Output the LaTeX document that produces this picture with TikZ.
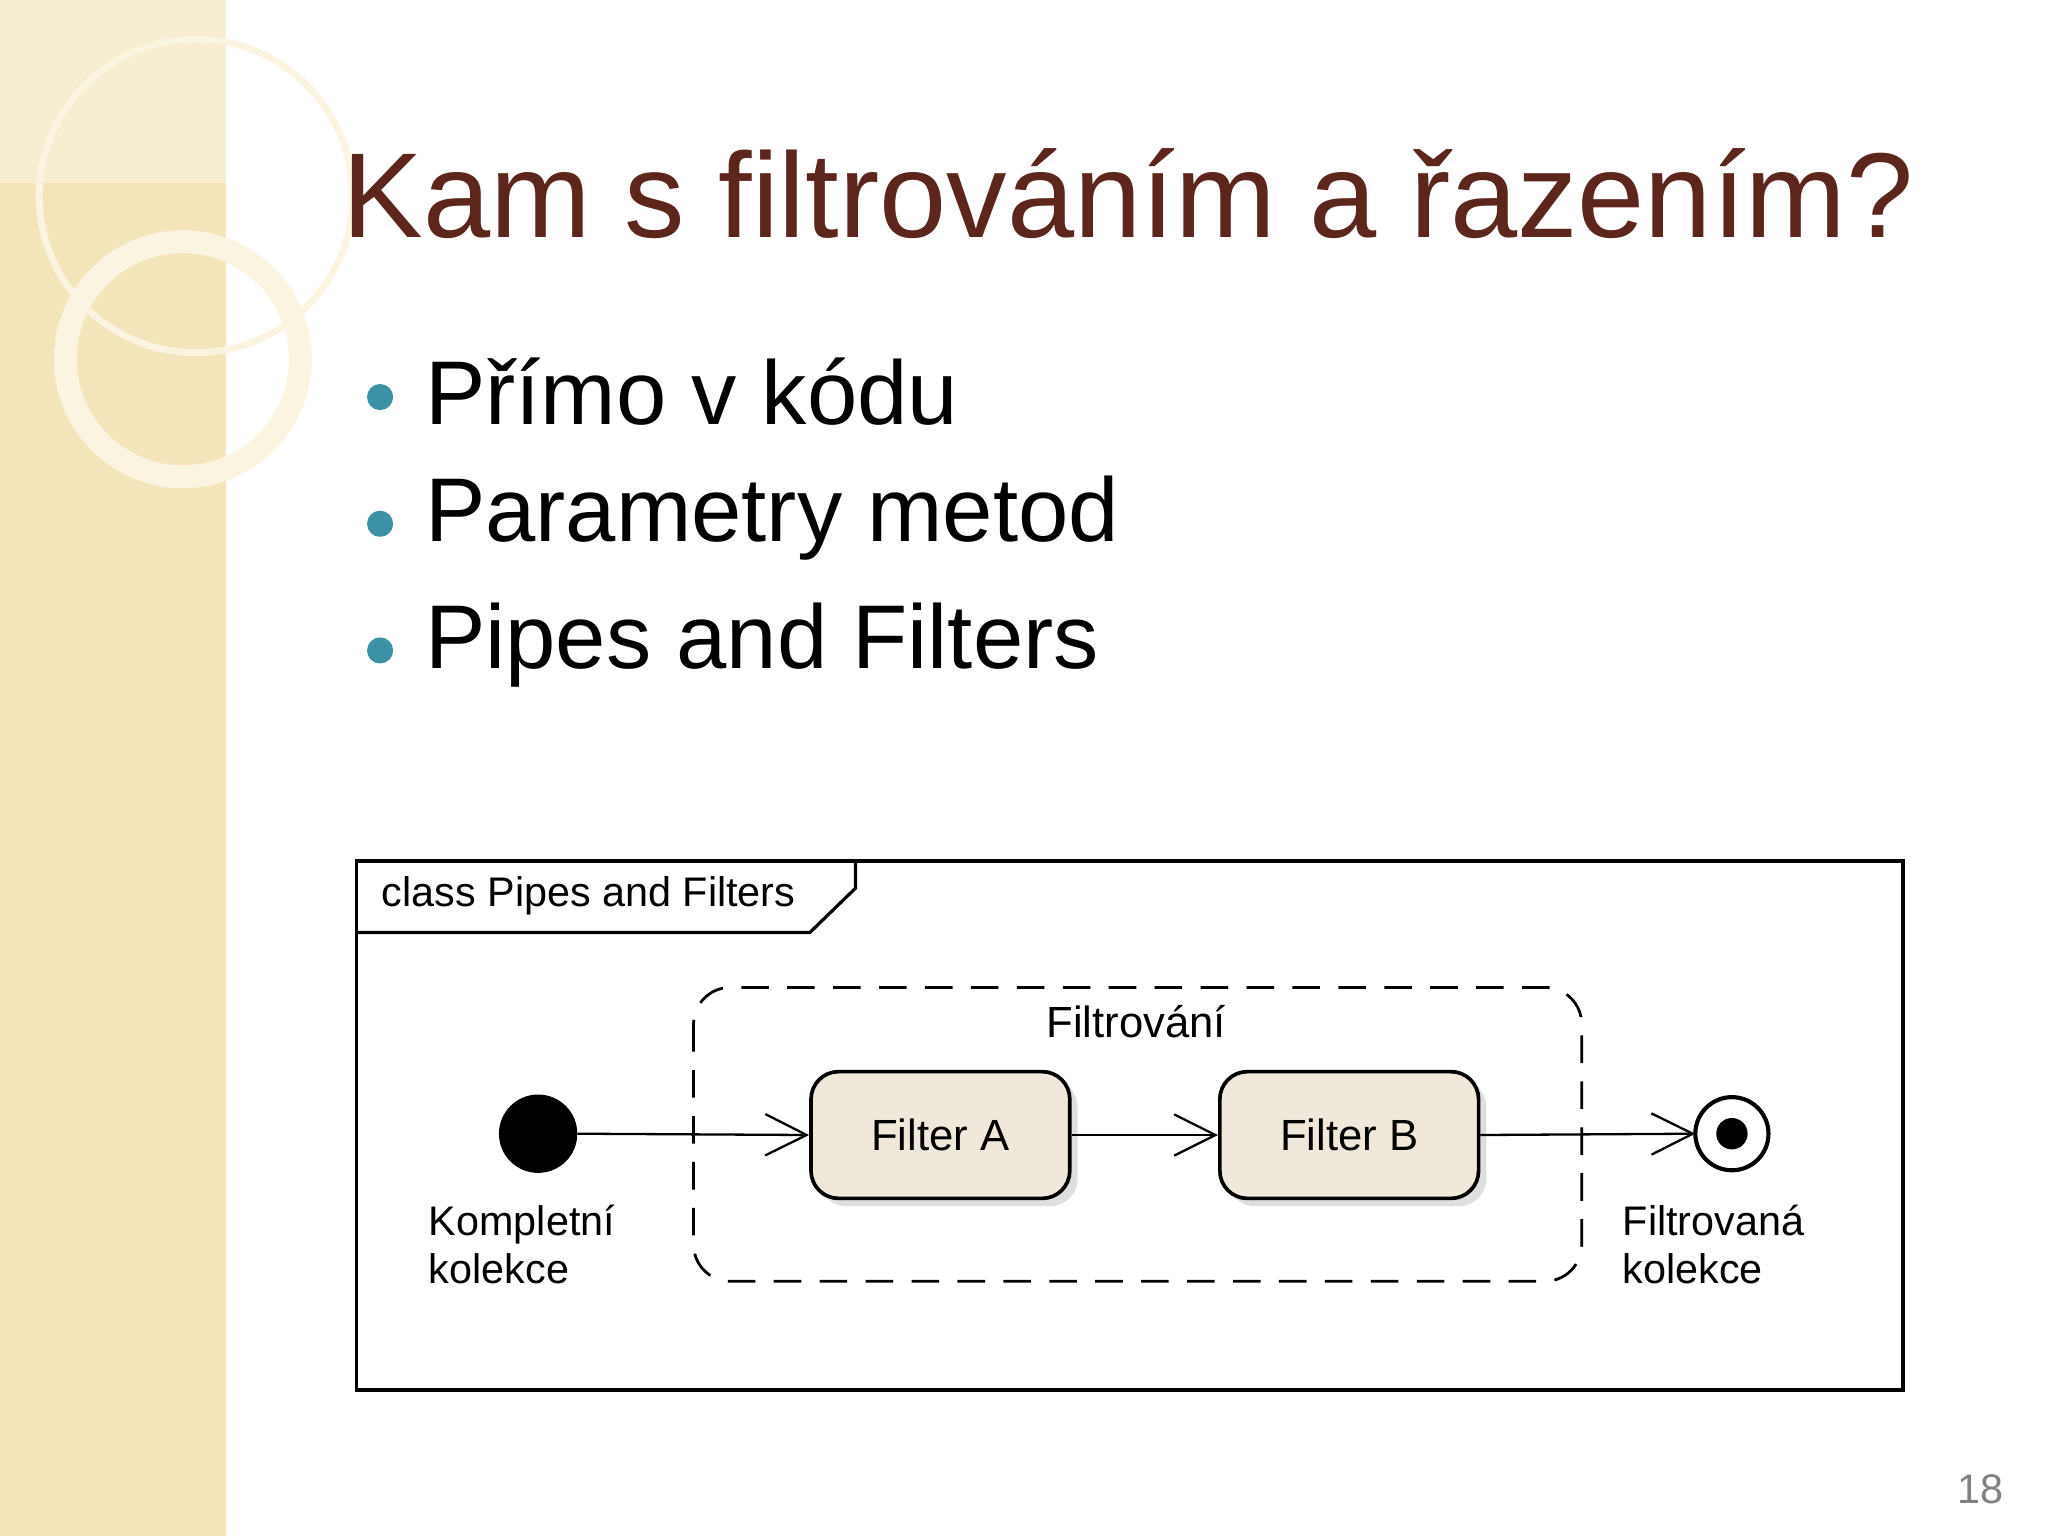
\documentclass[tikz,border=0pt]{standalone}
\usepackage{fontspec}
\setmainfont{Liberation Sans}
\usetikzlibrary{arrows.meta,shadows}
\definecolor{beige}{RGB}{243,228,186}
\definecolor{ring}{RGB}{250,244,225}
\definecolor{titlec}{RGB}{92,38,28}
\definecolor{bul}{RGB}{60,145,165}
\definecolor{fillc}{RGB}{240,232,218}
\tikzset{
  filt/.style={draw,line width=0.8pt,rounded corners=6pt,fill=fillc,minimum width=1.98cm,minimum height=0.97cm,font=\fontsize{9.5}{11}\selectfont,drop shadow={shadow xshift=0.06cm,shadow yshift=-0.06cm,fill=gray!50}},
  flow/.style={line width=0.5pt,-{Straight Barb[length=9pt,width=9pt,line width=0.5pt]}},
  bullettext/.style={anchor=west,font=\fontsize{19.7}{22}\selectfont},
  lbl/.style={align=left,anchor=north west,font=\fontsize{9}{10.5}\selectfont}
}
\begin{document}
\begin{tikzpicture}[x=0.01cm,y=-0.01cm]
\useasboundingbox (0,0) rectangle (1568,1176);
\fill[white] (0,0) rectangle (1568,1176);
\fill[beige] (0,0) rectangle (173,1176);
\fill[ring,opacity=0.6] (0,0) rectangle (173,140);
\draw[ring,line width=1.5pt] (150,150) circle (120);
\draw[ring,line width=5pt] (140,275) circle (90);
\node[anchor=west,text=titlec,font=\fontsize{26.3}{30}\selectfont] (title) at (250,148) {Kam s filtrováním a řazením?};
\foreach \y/\t [count=\i] in {300/Přímo v kódu,397/Parametry metod,494/Pipes and Filters}{
  \fill[bul] (291,\y+4) circle (10);
  \node[bullettext] (b\i) at (313,\y) {\t};
}
\node[text=gray,font=\fontsize{9}{11}\selectfont] (pg) at (1516,1140) {18};
% frame
\draw[line width=0.8pt] (273,659) rectangle (1457,1064);
\draw[line width=0.7pt] (273,714) -- (620,714) -- (655,680) -- (655,659);
\node[anchor=west,font=\fontsize{9}{11}\selectfont] (cls) at (280,686) {class Pipes and Filters};
\draw[line width=0.6pt,dash pattern=on 6pt off 4pt,rounded corners=8pt] (531,756) rectangle (1211,981);
\node[font=\fontsize{9.5}{11}\selectfont] (filtr) at (870,782) {Filtrování};
\fill (412,868) circle (30);
\coordinate (init) at (442,868);
\node[filt] (fa) at (720,869) {Filter A};
\node[filt] (fb) at (1033,869) {Filter B};
\draw[line width=0.9pt,fill=white] (1326,868) circle (28);
\fill (1326,868) circle (12);
\coordinate (fin) at (1298,868);
\draw[flow] (init) -- (fa.west);
\draw[flow] (fa.east) -- (fb.west);
\draw[flow] (fb.east) -- (fin);
\node[lbl] (k1) at (316,910) {Kompletní\\kolekce};
\node[lbl] (k2) at (1230,910) {Filtrovaná\\kolekce};
\end{tikzpicture}
\end{document}
